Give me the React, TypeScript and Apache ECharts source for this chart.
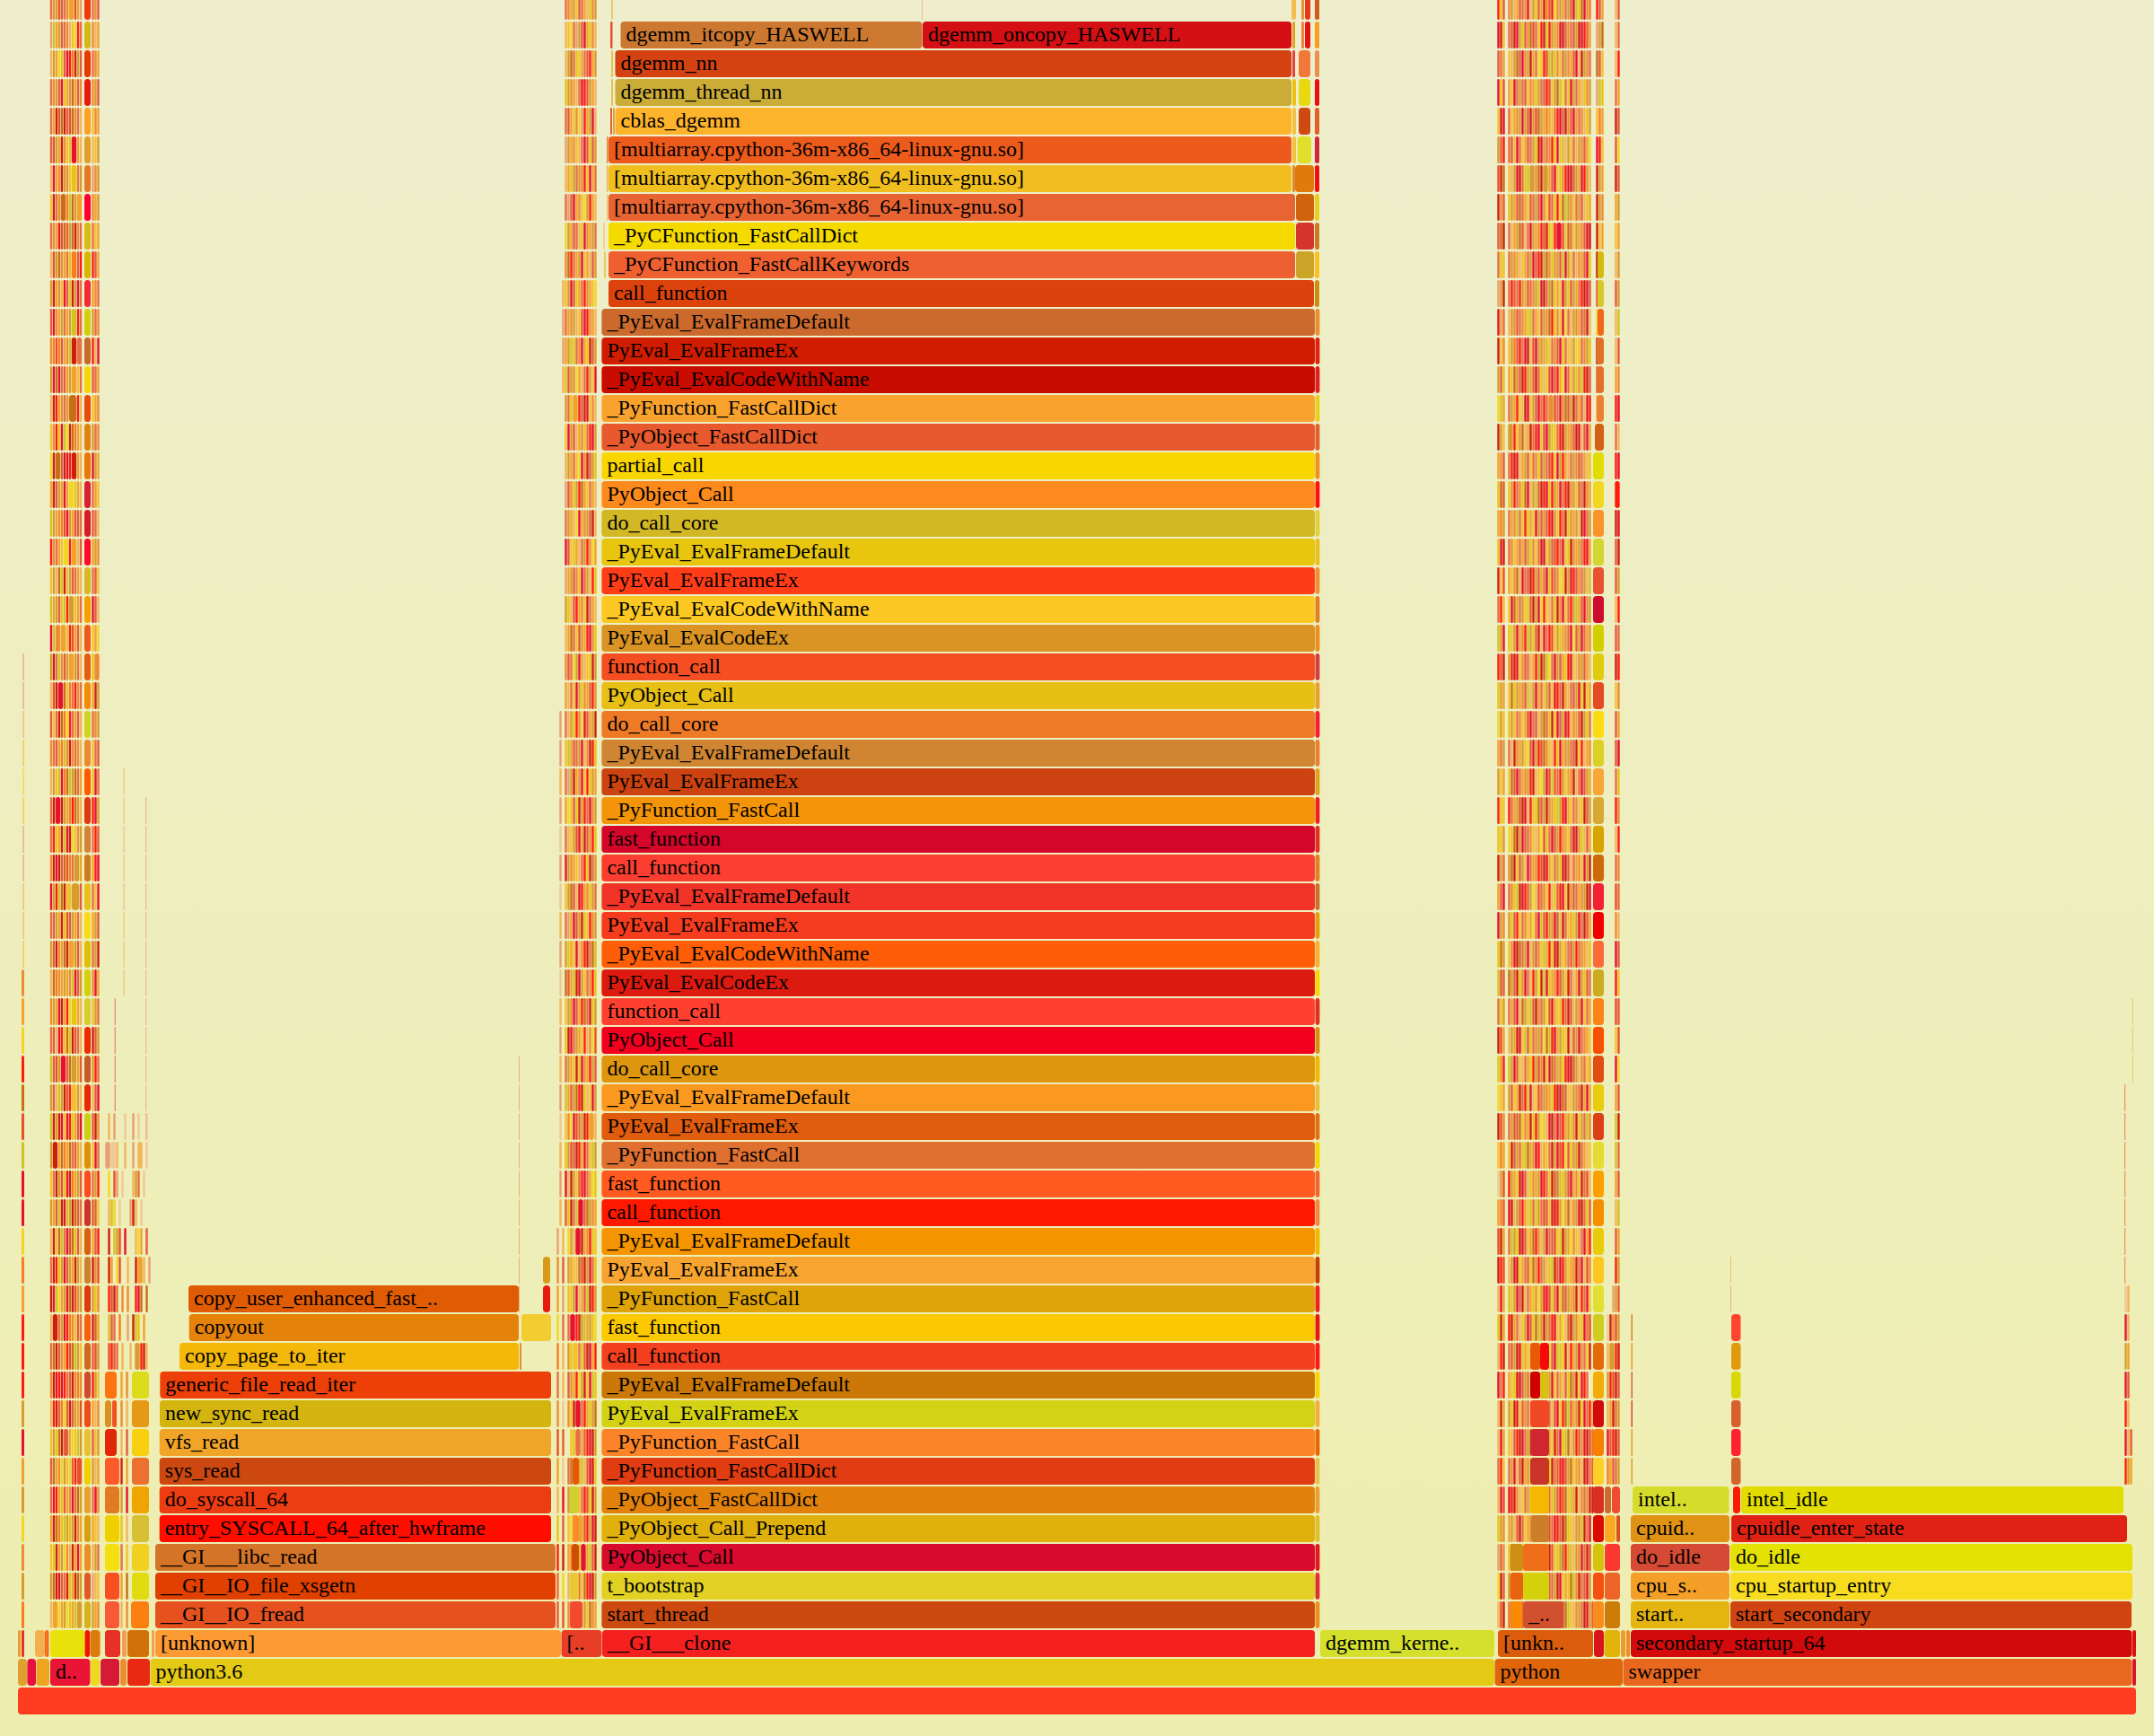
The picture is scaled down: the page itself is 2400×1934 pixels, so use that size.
import React, { useEffect, useRef } from "react";
import * as echarts from "echarts";

// Flame graph. X values are sample positions (one unit = one pixel of the 2400 wide plot); y values are stack depth.
const palette: Record<string, string> = {
  a: "#f2a22c", b: "#e8502a", c: "#e8c414", d: "#cf1f0c", e: "#fa7c20", f: "#ff1c0e",
  g: "#d89c2e", h: "#e96e44", i: "#f2d626", j: "#c96e14", k: "#f2b45c", l: "#d2c224",
  m: "#e6122e", n: "#efc898", o: "#ee8c34", p: "#e55c3c", q: "#f4c030", r: "#e8a070",
};

// Main python tower, level 2 upward: names and colours.
const towerNames = ["__GI___clone","start_thread","t_bootstrap","PyObject_Call","_PyObject_Call_Prepend","_PyObject_FastCallDict","_PyFunction_FastCallDict","_PyFunction_FastCall","PyEval_EvalFrameEx","_PyEval_EvalFrameDefault","call_function","fast_function","_PyFunction_FastCall","PyEval_EvalFrameEx","_PyEval_EvalFrameDefault","call_function","fast_function","_PyFunction_FastCall","PyEval_EvalFrameEx","_PyEval_EvalFrameDefault","do_call_core","PyObject_Call","function_call","PyEval_EvalCodeEx","_PyEval_EvalCodeWithName","PyEval_EvalFrameEx","_PyEval_EvalFrameDefault","call_function","fast_function","_PyFunction_FastCall","PyEval_EvalFrameEx","_PyEval_EvalFrameDefault","do_call_core","PyObject_Call","function_call","PyEval_EvalCodeEx","_PyEval_EvalCodeWithName","PyEval_EvalFrameEx","_PyEval_EvalFrameDefault","do_call_core","PyObject_Call","partial_call","_PyObject_FastCallDict","_PyFunction_FastCallDict","_PyEval_EvalCodeWithName","PyEval_EvalFrameEx","_PyEval_EvalFrameDefault"];
const towerColors = ["#f42020","#cc4a10","#e2d024","#d80a2e","#e0b00c","#e2820c","#e23c12","#fc8428","#d4d214","#cc7808","#f54020","#fcc800","#dea40a","#f8a430","#f49400","#ff1800","#ff5a20","#df7030","#e05c0e","#fa9820","#de960e","#f2001e","#ff4030","#dc1a10","#ff5e08","#f63c1e","#f23428","#fb3e30","#d4062a","#f49408","#cc4210","#cf8532","#ef7a26","#e8c015","#f44e22","#da9424","#fcc824","#ff3c18","#e8c610","#d2b824","#fd8a1c","#fad600","#e85a2e","#faa22e","#c80c00","#d01c00","#cc6a2e"];
// Small frame on the tower's right edge, level 3 to 48.
const towerTail = ["#e89020","#e03030","#e01820","#e0c030","#e8a030","#e8c050","#e86800","#f0b040","#f8d400","#ff1818","#e81810","#f02020","#c84000","#f0b800","#f08a40","#f06a30","#f0d800","#e07010","#e8c040","#f0b800","#d89010","#e03020","#f8d800","#f8b030","#e0a010","#c87030","#e08020","#e03020","#f02020","#e0a020","#e88030","#f02030","#e8a030","#d04040","#e89020","#e08020","#f09030","#e8c020","#e0d040","#ff1010","#f09020","#e06030","#e8d020","#e02020","#e02010","#e89030"];

// [level, start, end, colour, label]
const namedFrames: [number, number, number, string, string][] = [
  [0,20,2380,"#ff3c20",""],
  [1,167.5,1665,"#e4ca14","python3.6"],[1,1665.5,1808,"#e0660c","python"],[1,1808.5,2375.5,"#e86820","swapper"],
  [1,56,100.4,"#ea1434","d.."],
  [2,173,625,"#fc9a34","[unknown]"],[2,625.5,670.5,"#e83e28","[.."],[2,1471,1665,"#d4e02c","dgemm_kerne.."],
  [2,1669,1775,"#dc5c0e","[unkn.."],[2,1817,2375.5,"#d20a0c","secondary_startup_64"],
  [3,173,619,"#e5521f","__GI__IO_fread"],[4,173,619,"#e04000","__GI__IO_file_xsgetn"],[5,173,619,"#d47428","__GI___libc_read"],
  [6,177.7,614,"#ff0e00","entry_SYSCALL_64_after_hwframe"],[7,177.7,614,"#ec3c12","do_syscall_64"],[8,177.7,614,"#cc4810","sys_read"],
  [9,177.7,614,"#f0a428","vfs_read"],[10,178,614,"#d4b40e","new_sync_read"],[11,178.3,614,"#ec4008","generic_file_read_iter"],
  [12,200,578,"#f4b80a","copy_page_to_iter"],[13,210.7,578,"#e4820a","copyout"],[14,210,578,"#e05c04","copy_user_enhanced_fast_.."],
  [3,1817,1927,"#e4b410","start.."],[3,1928,2375,"#d04412","start_secondary"],
  [4,1817,1927,"#f4a028","cpu_s.."],[4,1928,2376,"#f8dc20","cpu_startup_entry"],
  [5,1817,1927,"#d44a34","do_idle"],[5,1928,2376,"#e4e204","do_idle"],
  [6,1817,1927,"#e09214","cpuid.."],[6,1929,2370,"#e02214","cpuidle_enter_state"],
  [7,1819,1926.5,"#d6dc2c","intel.."],[7,1940,2366,"#e2dc00","intel_idle"],
  [3,1697,1742,"#d05030","_.."],
  [49,678,1464,"#dc420c","call_function"],[50,678,1443,"#ef6030","_PyCFunction_FastCallKeywords"],[51,678,1443,"#f5da00","_PyCFunction_FastCallDict"],
  [52,678,1443,"#e86432","[multiarray.cpython-36m-x86_64-linux-gnu.so]"],[53,678,1439,"#f0be1e","[multiarray.cpython-36m-x86_64-linux-gnu.so]"],[54,678,1439,"#ec5a1c","[multiarray.cpython-36m-x86_64-linux-gnu.so]"],
  [55,685.5,1439,"#fdb32a","cblas_dgemm"],[56,685.5,1439,"#cbac36","dgemm_thread_nn"],[57,685.5,1439,"#d44212","dgemm_nn"],
  [58,691.5,1027.5,"#cd7830","dgemm_itcopy_HASWELL"],[58,1028,1439,"#d41014","dgemm_oncopy_HASWELL"],
];

// Unlabelled blocks: [level, start, end, colour]
const plainBlocks: [number, number, number, string][] = [
  [1,20,30,"#e0a030"],[1,30.4,40,"#e8103e"],[1,40.5,55,"#eea522"],[1,100.8,111,"#f0d820"],[1,112,133,"#d61a35"],[1,134,141,"#e89030"],[1,142,167,"#e82a14"],
  [1,2376,2380,"#d81430"],
  [2,20,23,"#e0a030"],[2,24,27,"#e83028"],[2,39,50,"#f4b050"],[2,50,54.5,"#f47020"],[2,56,94.6,"#e8e20a"],[2,94.6,100,"#ee1408"],[2,100.4,111.6,"#dd7a0e"],[2,117,134,"#e63028"],[2,136,141,"#f0a050"],[2,142,166,"#d07208"],[2,169,172,"#f0a050"],
  [2,1776,1787,"#d8141c"],[2,1787.5,1805,"#e0b408"],[2,1806,1811,"#ec9a30"],[2,1812,1816,"#e89028"],[2,2376,2380,"#d81010"],
  [3,117,133,"#f85a38"],[4,117,133,"#f85020"],[5,117,133,"#f4e010"],[6,117,133,"#f0d000"],[7,117,133,"#e27a22"],[8,117,133,"#ff5a2a"],[9,117,130,"#e02808"],[10,117,124,"#dc9020"],[10,125,130,"#f65020"],[11,117,130,"#fc7410"],
  [3,146,166,"#fc8010"],[4,147,166,"#e0dc10"],[5,147,166,"#f0d020"],[6,147,166,"#d8c034"],[7,147,166,"#f0a400"],[8,147,166,"#ec7030"],[9,147,166,"#f8d010"],[10,147,166,"#e49a14"],[11,147,166,"#dcdc1c"],
  [13,581,614,"#f2cc30"],[12,579,581,"#e88a30"],[14,605,613,"#e81a10"],[15,605,613,"#d89a1a"],
  [3,635,649,"#f04a30"],[4,635,645,"#e8c834"],[5,637,645,"#d04c08"],[6,638,645,"#fc8c2c"],[7,635,645,"#d0d030"],[8,638,645,"#e65808"],
  [3,1682.6,1696.5,"#f88a04"],[4,1682.6,1697,"#e8620f"],[4,1697,1726,"#d4d00c"],[5,1682.6,1697,"#cc8e14"],[5,1697,1726,"#f06e1a"],[6,1706,1726,"#cc7e28"],[7,1705,1726,"#f4b800"],[8,1705,1726,"#c83428"],[9,1705,1726,"#d02830"],[10,1705,1726,"#f04824"],[11,1705,1716,"#d00000"],[11,1716,1726,"#d8c018"],[12,1705,1716,"#e85a08"],[12,1716,1726,"#f40a0a"],
  [3,1788,1805,"#cc7c08"],[4,1788,1805,"#ec6428"],[5,1788,1805,"#fc3830"],[6,1788,1800,"#fca820"],[6,1801,1805,"#d8501a"],[7,1788,1795,"#cc6a30"],[7,1796,1805,"#f04a30"],
  [8,1929,1939.5,"#d0662a"],[9,1929,1939.5,"#ff2030"],[10,1929,1939.5,"#d86030"],[11,1929,1939.5,"#d8d808"],[12,1929,1939.5,"#e09a10"],[13,1929,1939.5,"#ff4430"],[7,1931,1939,"#f81c08"],
  [8,1817.5,1819,"#e0a020"],[9,1817.5,1819,"#e0a020"],[10,1817.5,1819,"#e04030"],[11,1817.5,1819,"#d86040"],[12,1817.5,1819,"#e0a020"],[13,1817.5,1819,"#d88030"],
  [14,1928,1928.8,"#f0a070"],[15,1928,1928.8,"#f0b060"],
  [49,1465,1470,"#c89012"],[50,1444,1464,"#cca428"],[50,1465,1470,"#fcc020"],[51,1444,1464,"#d4342a"],[51,1465,1470,"#cc7a22"],[52,1444,1464,"#d0640c"],[52,1465,1470,"#e8d020"],
  [53,1440,1443,"#e08a30"],[53,1443,1464,"#e07a0a"],[53,1465,1470,"#f01010"],[54,1440,1444,"#f4c040"],[54,1445.6,1461,"#e0e02a"],[54,1465,1470,"#d02a38"],
  [55,1440,1444,"#f4c040"],[55,1447,1460,"#d04a10"],[55,1465,1470,"#e0602a"],[56,1440,1444,"#f0c010"],[56,1447,1460,"#e8d810"],[56,1465,1470,"#e81010"],
  [57,1440,1443,"#e84040"],[57,1447,1460,"#f07838"],[57,1465,1470,"#ec9050"],[58,1440,1443,"#e0a020"],[58,1450,1453,"#f08040"],[58,1454,1460,"#e81010"],[58,1465,1470,"#f4a020"],
  [59,1439,1444,"#f0c050"],[59,1450,1453,"#e89040"],[59,1454,1460,"#e83818"],[59,1465,1470,"#d05a20"],
];
const thinBlocks: [number, number, number, string][] = [
  [50,673,675,"#f0c860"],[51,672,674,"#f4d080"],[52,676,677.5,"#f0c070"],[53,676,677.5,"#e8b060"],[54,676,677.5,"#e08040"],[55,680,682,"#e06030"],[55,683,685,"#e8a050"],
  [56,681,683,"#e8c050"],[57,681,683,"#e8c050"],[58,680,682.5,"#e85030"],[59,681,683,"#f0c860"],[59,1027,1027.8,"#f0b080"],
];

const spikeLevels578 = [14,15,16,17,18,19,20,21,22];
const spikeLevels128 = [21,22,23,24];
const spikeLevels138 = [25,26,27,28,29,30,31,32];
const spikeLevels162 = [20,21,22,23,24,25,26,27,28,29,30,31];
const spikeRight2367 = [15,16,17,18,19,20,21];
const spikeRight2376 = [22,23,24];

// Far-left strip: level 36 to 26 thin, level 25 to 3 wider.
const leftThin = "rrkqiqrrkkq";
const leftWide = "oaifjblmmieafffgmagioge";

// Strip rows, first string is level 59, last is level 3. One letter is one 3-unit cell.
const stripsA = ["hogbphoaabar","rlagphokqifh","kgaicpmfedgp","hogpmcaojapo","hadbjdpbjohk","pbgadoqcmmak","kmaodgoqcchg","qdhojjeljgaa","hoambjpgjdoh","kbgjoahceepf","gdaoqmpcdgmh","pmoaghagllfh","oebepaolddhh","gmjmhpagaaqh","kdfaohgjjjfk","qofcmlidjeak","idjjpdmfddak","adpgamaiicak","lgaoebmoabph","fohaqiifaakp","qgkjcdqgphak","lagpclfggqah","mlooaaqfbapk","gdhlopgaaghk","kbdmmjqehfoh","pqhdjeifhapk","ohpaelodohok","kgqlmejlgjha","hdmmdgaefjok","hfcadlmdiqog","odmdpjbehgga","mgfljdqqgggp","hpgadcbpgahk","gpdoajdaagpk","kjeoagaolmpg","ogamdaficcak","hpkmfqjcdphk","lpbgmmpjggap","gpklgdbfqqgk","ldgdmqmfcapm","gddajeajhpak","qhdgbcmdeagp","gapldmlgdjph","kdqjlhmbjcpk","hdfcgmpgadgk","dmliagmjdbog","kddhgmfeoqph","hjdpoafbjlgq","odmfmfhpdoeo","kfdpeipdpgab","qgcjdppaiqlg","pjaoigqipfbb","hmfacpaomhjg","adjeclgcgdoa","qcdagiokdama","gjdmphdcadjg","kaaiagicalgg"];
const blockA = ["#f03a0a","#d4b818","#e83a00","#e81a10","#fca028","#e0a028","#e47a24","#ff0030","#d4bc10","#d4b800","#f52a38","#d0d010","#c86a2a","#f4d800","#e84a08","#e08210","#e87808","#d82030","#d81a2a","#ff0a28","#d8b820","#f4a000","#f05a18","#e85a10","#f48a08","#d0d420","#ec8a30","#ff5a00","#dc3a10","#d4843a","#cc7c20","#e8c018","#fbdc14","#e0be08","#d0d010","#d4cc30","#ee2a00","#c85a26","#e82a00","#ccd010","#e09008","#ff4a20","#d03030","#d86010","#cc8030","#dc3a10","#f26010","#d06a20","#d04a30","#f04a1a","#e8c030","#f0d000","#e8a030","#d8a010","#e8902a","#e05a28","#d8b020"];
const stripsAR = ["hop","oka","hoa","ogp","qoa","kqg","rog","oag","hqa","fpa","aoh","gho","fkm","pha","qao","gho","mga","haq","phk","ago","hpq","mpk","qai","coo","adg","hog","qhp","cmh","fmg","hfp","afm","hqm","agp","hgd","oma","qgh","dpg","gfh","kpm","pdo","qmh","hgf","jpq","apf","dob","gco","mja","pbg","fgq","ako","pqg","gka","hmo","aqk","kgh","rkq","gao"];
const stripsB = ["...hoagqphakcog.","...kqihrgpmacok.","...kgjhcqahpfag.","...cgoakhmfpgak.","...hpaqoirfagmk.","...rgaoqkhmpcpg.","...kacghgofqmah.","...hrpmaoqigfak.","...igaphkcmoagh.","...ojfhagmqakpg.","..kqgmpcahfoaqi","..rhaogkqpmfoak","..raglchomacdpg","..kcpgoiakhfgqm","...ghcaafpdmqok","...qmgpkaochfmg","...kgahqimodpgc","...rpocgfjaqhak","...hgakimaogpdk","...mpqcakhgfoia","...ragpoqmhgkfc","...gckpfaoqdhak","...kajhqbgafmoc","...ophigmakqcdg","...akhqmgcoapfg",".r.hkgcfoimpagd",".r.qlaphgmkodfc",".k.hrgdaomqfcga",".r.aiqpcdgfhmog",".n.hkqgbmadpofc",".r.mgoaqkhfcdhg",".n.qgjpkmfaocgh",".k.hrampgdcqfog",".r.gcaqmkofdhjl",".n.jpaldmgqhofc",".k.qgompafjhdcg",".r.cdmhgaqfkoib",".k.hgaqdcmoafgp",".r.lapgjfdckqmg",".n.qoimbhgdfaak",".k.cgbpdfamhqlg",".r.mkdgqpfmhaic",".k.pcdhlmmpjgoa","r.k.igkmmdaofcq","o.p.gaqkjbdgmhc","a.r.cqgmkapldfg","i.h.hmmfdglagci","e.k.gcqqhcpdmaf","h.k.pgafigdqmlc","o.n.oqdmmhfacgj","b.p..qchhapfmdg","a.n.hjc.alkpmdq","k.m.goa.qhfbcdg","c.p.qih.aabfgmd","f.d.aoe.cmmalpd","h.i.kqa.hqjfmdg","p.b.oe.dfkgqjoa"];
const stripsC1 = ["fcp","mdq","pha","mcb","qdm","gpf","bdj","dop","pjd","hcq","rgd","mah","dqo","gpc","ila","dgq","aop","cbj","aeg","cmd","dqb","hfq","lgm","fbd","cga","igq","ahg","gqa","fcq","cqg","dgh","apm","mgo","cjg","lbp","hcg","dba","cgf","iqa","dbo","qea","ngb","aep","bda","dfb","kma","cda","kfd","mhf","kda","kma","hfq","kmb","cgo","rpo","idp","kbd"];
const stripsC2 = [".ogkaphomkgcpadebfiogahgpmlcjmoe",".hpdmgcpojbhqfdlfgaomdpohpgdmfpa",".qkgjpmogdahiqfblgcoqhgoapmkdgoh",".aqmhghpqoacghpfbqgjlihcmghakcog",".hqaogmgpdobjgaeaqhfmpdopmahokcg",".hpqmhqaphgcdmohofcmqlkgqhkgopai",".qkgmdhclggojdggapmqcofmdpgamfgk",".cgapjhaqphgpmoqbhcfqjlgoqhgpkca",".hkagjpkhmgaofbdcqfmmbqjhqgaopmd",".hgoakqahgmpfdgjocgoplmgqhkoapmc",".hfphfgaphoglmdhgjqaqmgcpgahfdmp",".kgophoaclhaqpgojfcoqmihkgoaphdk",".qgepfhmdkbmgoalqhopmchqkgiqhogc",".aqjopdfgapdhckqbmpfaimhqgcolfdp",".hgafqkdmqgpmhfhoobhmojpgdhapkmf",".ggfqojkadhfmqbmgcqhfdgaopdmkpma",".hfdmkagpqhocpghbfqmgfakhgophakc",".qgfhocjmkglpdfmcfgamhfdogqphdoa",".haolhqfcaqmgpopfmgqfhdcoagkdmhg",".hoqahapgcoqhdmqgpbfhmqcdoaghfma",".aqojkmhpdfgpahmcbhoiqdgmfpohgkl",".qmjahgqcpdgmifqkhcdomqhfglapmog",".cqgmaoflgcpdkmhfbqgcaohmipgmhao",".gfdmqophkafgdjlihmgpacfmqkogpak",".qjcgaoplkgmahqgpqmfhdakhpgmcdqa",".cgqhoqabmhpkgjhcdqmpgmfkoapdgch",".hkdoagqipmgfbjoqkfcmaoghpdqfkao",".qjpmhaogfdkqigmbcphfgqaodkhmpga",".fhagbdmkfqcjpgdoaclgfmaqhokcdpg",".iqjdgmphoqkaibchmpgfoaqhdmgckpa",".gjdqpgkmhaofbdmaqhgcmdpkhaoqmgd",".hocldmfpgikbhoqfkcpfmqdgphaogdm",".gcpfqhoqaihmlpfgomjkdhqacgmhdpa",".qomdjhgmkgpoqlafcmdgqahpgfhoakc",".jgpdcomhkfgidlmcaofpgqdhkamgcph",".hapmkjgqlpdohgibmaqcfhdpkgomqha",".kgadmqlpchoghijlfmagcqdkpgmhoaq",".lgmpqkhacfgbodqmjhagcfmdpgkohqa",".gpqadhflmkqbhgoacfdmjpqkgohdama",".hgbpjqoadcfgiqkmdhmpfagcodqghlo",".qdpghcljaomfkaqhdgmbfipcogdhakq",".fgaqdmpkcoagmfhqdjhlcgpmaoqdhbk",".mdkgpfaqlhcghbpqmdfgiajkogmdhcp",".hlgcdmpqajfokgmhpbqcdgaioqkhmaf",".kgmdqahpcjofhgkcldpmfgqaodhmkbo",".lqgmpdkhacoigfmbchmqjpgaodkfhmq",".fdahkqgmpcjlodghfmqaikpdgoqcmhb",".hpgdmcaqkjfgobhipmlcqdkfagmohqd",".aqcdmpghlkagddfgmqhakpcjodqmfh",".gcdmqpohkfjagmghkbmqfjlpaodcmhfk",".qkpfdmhgjcaoqkgaqdhmcljkgfpomdbh",".hgmkpdaocfhigqlcdhpfmbgjqaokdmhp",".mfdokqhgacmpjfmhcgpfbjqladkohgmd",".agkpdhqaomfcgagbhmfpdjcqkgoldhm",".qfkhocpagikmdmhdpqcgjfalkogmhdb",".gcdhjaqpfgmdbkfphgdmqacjlodhpmg",".hmaqdpgjocgkahcgpdmfbjlqkoghdmgp"];
const stripsCR = ["fpa","rgj","jpq","rlc","qea","mfq","dga","dgo","dqa","dl.","pl.","ie.","dj.","pj.","ke.","jj.","...","...",".","."];
const blockC: [number, number, string][] = [
  [50,1780,"#d4bc0c"],[49,1780,"#d8c82a"],[48,1780,"#f4661a"],[47,1779,"#e07228"],[46,1779,"#e47028"],[45,1779,"#ea8032"],[44,1777,"#d46016"],[43,1775,"#e0dc04"],[42,1775,"#f2d820"],[41,1775,"#fa9428"],[40,1775,"#d2d630"],[39,1775,"#e85230"],
  [38,1775,"#d00c2e"],[37,1775,"#d0d000"],[36,1775,"#e0cc0c"],[35,1775,"#e44a24"],[34,1775,"#fcdc10"],[33,1775,"#dcd024"],[32,1775,"#f8a638"],[31,1775,"#d8a834"],[30,1775,"#d8a400"],[29,1775,"#cc6a08"],[28,1775,"#f42034"],[27,1775,"#f00000"],[26,1775,"#fc6c3a"],[25,1775,"#ccac20"],[24,1775,"#fc8414"],[23,1775,"#f85000"],[22,1775,"#e04c12"],[21,1775,"#e8cc10"],[20,1775,"#dc4018"],[19,1775,"#e4dc30"],[18,1775,"#fca000"],[17,1775,"#f49000"],[16,1775,"#e8cc0c"],[15,1775,"#fcc820"],[14,1775,"#e0e030"],[13,1775,"#d0cc20"],[12,1775,"#e46a0a"],[11,1775,"#f4ac0a"],[10,1775,"#d00c0c"],[9,1775,"#f88000"],[8,1775,"#fcd028"],[7,1775,"#d83020"],[6,1775,"#dc0a00"],[5,1775,"#d4c40c"],[4,1775,"#f45010"],[3,1775,"#f88c1c"],
];
// Level 59 to 8, cells start at 1790
const stripsC3 = ["...kp","...kh","...kf","...ha","...dp","...pi","...dp","...ag","...qa","...kg","...pg","...kl","...kp","...ao","...fm","...hk","...fm","...ff","...dm","...pd","...pg","...kf","...ph","...df","...qo","...pa","...pm","...hc","...fo","...kf","...ho","...bh","...ok","...mp","...fq","...bp","...qb","...mi","...ap","...ld","...lh","...ap","...kl","...pa","...fg","..rgp","ndobg","kggfd","gfbdp","kadhg","mpfdp","eaphg"];
// Levels 14 to 8, cells start at 2364
const stripsD = [".nk..",".mk..",".ga..",".mp..",".fk..",".mkp.",".fga."];
const stripsA2 = [".k.r...n..r.n..n.","rrnnk..k..r.kk.n.",".i.br.n...kgh.n..",".kli.n...rdk.n...",".d.lgb.m...kia.p.",".da.ib..k..daak.r",".fbdh.o.o..fmj.j.",".lph.e..r.dlc.a..",".bfph.k..k.ggfdk."];
// Levels 11 to 3, cells start at 134
const stripsA3 = ["a.o.","o.k.","k.p.","d.a.","g.m.","c.k.","h.q.","a.j.","k.o."];

type Frame = { l: number; x0: number; x1: number; c: string; t: string };
const frames: Frame[] = [];
const put = (l: number, x0: number, x1: number, c: string, t = "") => frames.push({ l, x0, x1, c, t });

function stripRow(level: number, start: number, row: string) {
  let i = 0;
  while (i < row.length) {
    const ch = row[i];
    let j = i;
    while (j < row.length && row[j] === ch) j++;
    if (ch !== "." && palette[ch]) put(level, start + i * 3 + 0.3, start + j * 3 - 0.3, palette[ch]);
    i = j;
  }
}
stripsA.forEach((r, i) => stripRow(59 - i, 55.5, r));
blockA.forEach((c, i) => put(59 - i, 94, 101, c));
stripsAR.forEach((r, i) => stripRow(59 - i, 102, r));
stripsB.forEach((r, i) => stripRow(59 - i, 620, r));
stripsC1.forEach((r, i) => stripRow(59 - i, 1668, r));
stripsC2.forEach((r, i) => stripRow(59 - i, 1677, r));
stripsCR.forEach((r, i) => stripRow(59 - i, 1778, r));
blockC.forEach(([l, x, c]) => put(l, x, 1787, c));
stripsC3.forEach((r, i) => stripRow(59 - i, 1790, r));
stripsD.forEach((r, i) => stripRow(14 - i, 2364, r));
stripsA2.forEach((r, i) => stripRow(20 - i, 117, r));
stripsA3.forEach((r, i) => stripRow(11 - i, 134, r));
leftThin.split("").forEach((ch, i) => put(36 - i, 25.5, 26.7, palette[ch]));
leftWide.split("").forEach((ch, i) => put(25 - i, 24, 27, palette[ch]));
spikeLevels578.forEach((l) => put(l, 578.2, 579, "#e8a070"));
spikeLevels128.forEach((l) => put(l, 127.6, 128.8, "#e88070"));
spikeLevels138.forEach((l) => put(l, 137.6, 138.8, "#efc080"));
spikeLevels162.forEach((l) => put(l, 162, 163.2, "#efb890"));
spikeRight2367.forEach((l) => put(l, 2367, 2368.2, "#e89060"));
spikeRight2376.forEach((l) => put(l, 2375.8, 2376.6, "#e0c050"));
towerTail.forEach((c, i) => put(i + 3, 1465.6, 1470.4, c));
towerNames.forEach((n, i) => put(i + 2, i === 0 ? 671 : 670.4, 1465, towerColors[i], n));
plainBlocks.forEach(([l, a, b, c]) => put(l, a, b, c));
thinBlocks.forEach(([l, a, b, c]) => put(l, a, b, c));
namedFrames.forEach(([l, a, b, c, t]) => put(l, a, b, c, t));

export default function App() {
  const ref = useRef<HTMLDivElement>(null);
  useEffect(() => {
    document.body.style.margin = "0";
    const chart = echarts.init(ref.current!, null, { renderer: "svg" });
    chart.setOption({
      animation: false,
      backgroundColor: "transparent",
      grid: { left: 0, right: 0, top: 0, bottom: 0 },
      xAxis: { type: "value", min: 0, max: 2400, show: false },
      yAxis: { type: "value", min: -1.6875, max: 58.75, show: false },
      series: [{
        type: "custom",
        silent: true,
        clip: false,
        data: frames.map((f) => [f.x0, f.x1, f.l]),
        encode: { x: [0, 1], y: 2 },
        renderItem: (params: any, api: any) => {
          const f = frames[params.dataIndex];
          const a = api.coord([f.x0, f.l]);
          const b = api.coord([f.x1, f.l]);
          const w = b[0] - a[0];
          const h = api.size([0, 1])[1] - 2;
          const children: any[] = [{
            type: "rect",
            shape: { x: a[0], y: a[1], width: w, height: h, r: Math.min(4, w / 2) },
            style: { fill: f.c },
          }];
          if (f.t) {
            children.push({
              type: "text",
              style: {
                text: f.t, x: a[0] + 6, y: a[1] + h / 2 - 1,
                font: '24px "Liberation Serif"', fill: "#000",
                textAlign: "left", textVerticalAlign: "middle",
              },
            });
          }
          return { type: "group", children };
        },
      }],
    });
    return () => chart.dispose();
  }, []);
  return (
    <div
      ref={ref}
      style={{ width: 2400, height: 1934, background: "linear-gradient(to bottom, #eeeecd 0%, #eeeeb0 100%)" }}
    />
  );
}
